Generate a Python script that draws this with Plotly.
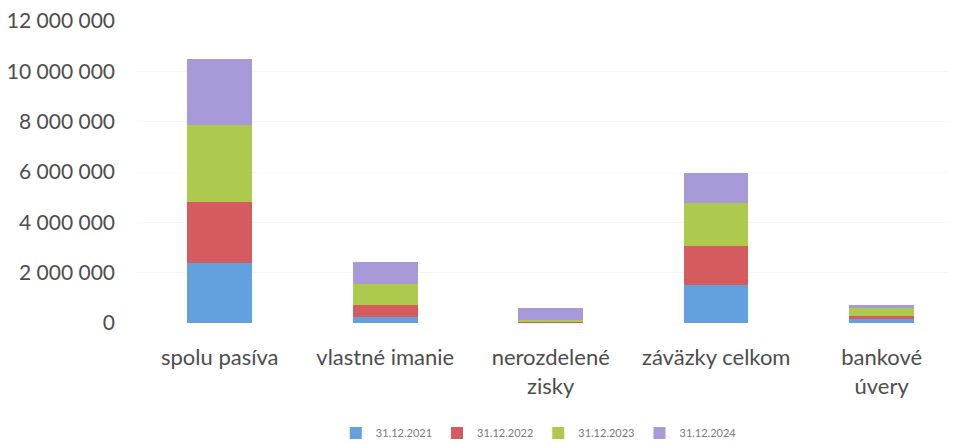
import plotly.graph_objects as go

categories = ["spolu pasíva", "vlastné imanie", "nerozdelené<br>zisky", "záväzky celkom", "bankové<br>úvery"]
series_names = ["31.12.2021", "31.12.2022", "31.12.2023", "31.12.2024"]
v2021 = [2390000, 230000, 20000, 1520000, 160000]
v2022 = [2400000, 480000, 20000, 1520000, 130000]
v2023 = [3090000, 830000, 80000, 1720000, 300000]
v2024 = [2610000, 890000, 460000, 1220000, 130000]
colors = ["#62a1de", "#d65b5e", "#adc94e", "#a89ad9"]
y_ticks = [0, 2000000, 4000000, 6000000, 8000000, 10000000, 12000000]
y_tick_labels = ["0", "2 000 000", "4 000 000", "6 000 000", "8 000 000", "10 000 000", "12 000 000"]

fig = go.Figure()
for name, vals, col in zip(series_names, [v2021, v2022, v2023, v2024], colors):
    fig.add_trace(go.Bar(
        x=list(range(len(categories))), y=vals, name=name,
        marker=dict(color=col, line=dict(width=0)),
        width=0.39,
    ))

fig.update_layout(
    barmode="stack",
    width=957, height=443,
    margin=dict(l=129, r=8, t=13, b=128, autoexpand=False),
    paper_bgcolor="white", plot_bgcolor="white",
    font=dict(family="Lato, Open Sans, sans-serif", color="#4d4d4d"),
    legend=dict(orientation="h", x=0.49, xanchor="center", y=-0.364, yanchor="middle",
                font=dict(size=11, color="#7a7a7a"), itemwidth=30, traceorder="normal"),
    showlegend=True,
)
fig.update_xaxes(
    range=[-0.5, 4.455], tickmode="array",
    tickvals=list(range(len(categories))), ticktext=categories,
    tickfont=dict(size=22, color="#4d4d4d"), showgrid=False, zeroline=False,
    showline=False, ticks="", ticklabelstandoff=19, automargin=False,
)
fig.update_yaxes(
    range=[0, 12000000], tickmode="array", tickvals=y_ticks, ticktext=y_tick_labels,
    tickfont=dict(size=21, color="#4d4d4d"), showgrid=True, gridcolor="#f7f7f7",
    zeroline=False, showline=False, ticks="", ticklabelstandoff=21, automargin=False,
    ticklabeloverflow="allow",
)

fig.write_html("out.html")
